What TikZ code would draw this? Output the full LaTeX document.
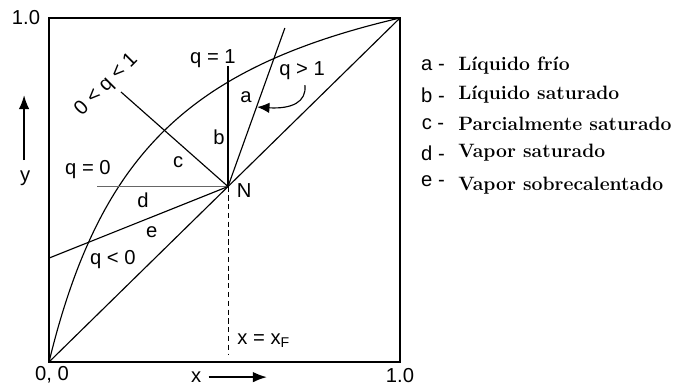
\documentclass[tikz,border=0pt]{standalone}
\usepackage{fontspec}
\setsansfont{Liberation Sans}
\usetikzlibrary{arrows.meta}

\begin{document}
\begin{tikzpicture}[x=7.02cm,y=6.88cm,
	lbl/.style={font=\sffamily\fontsize{11.5}{13}\selectfont,inner sep=0pt},
	key/.style={font=\bfseries\fontsize{11}{13}\selectfont,anchor=west,inner sep=0pt},
	op/.style={line width=0.65pt}]
	\useasboundingbox (-0.1396,-0.0727) rectangle (1.8034,1.0523);
	% frame and diagonal
	\coordinate (o) at (0,0);
	\coordinate (t) at (1,1);
	\draw[line width=1.1pt] (o) rectangle (t);
	\draw[op] (o)--(t);
	% equilibrium curve
	\draw[op] plot[domain=0:1,samples=80,smooth] (\x,{4.2*\x/(1+3.2*\x)});
	% feed point and q-lines
	\coordinate (n) at (0.51,0.51);
	\coordinate (q1) at (0.51,0.86);
	\coordinate (qg) at (0.672,0.971);
	\coordinate (qm) at (0.205,0.785);
	\coordinate (q0) at (0.137,0.51);
	\coordinate (ql) at (0,0.302);
	\coordinate (xf) at (0.51,0.02);
	\draw[op](n)--(q1);
	\draw[op](n)--(qg);
	\draw[op](n)--(qm);
	\draw[op,draw=black!60,line width=0.8pt](n)--(q0);
	\draw[op](n)--(ql);
	\draw[line width=0.5pt,dash pattern=on 3pt off 2pt](n)--(xf);
	% labels on the lines
	\node[lbl] (lq1) at (0.467,0.881){q = 1};
	\node[lbl] (lqg) at (0.721,0.846){q > 1};
	\node[lbl,rotate=45] (lqm) at (0.164,0.805){0 < q < 1};
	\node[lbl] (lq0) at (0.111,0.558){q = 0};
	\node[lbl] (lql) at (0.182,0.299){q < 0};
	\node[lbl] (la) at (0.561,0.770){a};
	\node[lbl] (lb) at (0.484,0.654){b};
	\node[lbl] (lc) at (0.368,0.581){c};
	\node[lbl] (ld) at (0.268,0.471){d};
	\node[lbl] (le) at (0.293,0.378){e};
	\node[lbl] (ln) at (0.556,0.497){N};
	\node[lbl,anchor=west] (lxf) at (0.536,0.061){x = x\textsubscript{F}};
	\coordinate (ca) at (0.729,0.805);
	\coordinate (cb) at (0.593,0.741);
	\draw[op,-{Latex[length=7pt,width=6pt]}](ca) .. controls (0.735,0.755) and (0.69,0.735) .. (cb);
	% axes
	\node[lbl] (top) at (-0.0655,1.0){1.0};
	\node[lbl] (zero) at (0.0085,-0.038){0, 0};
	\node[lbl] (one) at (1.0,-0.038){1.0};
	\node[lbl] (xl) at (0.419,-0.044){x};
	\coordinate (xe) at (0.621,-0.044);
	\draw[line width=1pt,-{Latex[length=8pt,width=6pt]}]([xshift=4pt]xl.east)--(xe);
	\node[lbl] (yl) at (-0.068,0.535){y};
	\coordinate (ys) at (-0.071,0.587);
	\coordinate (ye) at (-0.071,0.776);
	\draw[line width=1pt,-{Latex[length=8pt,width=6pt]}](ys)--(ye);
	% legend
	\node[lbl] (ka) at (1.094,0.863){a -};
	\node[lbl] (kb) at (1.094,0.776){b -};
	\node[lbl] (kc) at (1.094,0.692){c -};
	\node[lbl] (kd) at (1.094,0.608){d -};
	\node[lbl] (ke) at (1.094,0.526){e -};
	\node[key] (ta) at (1.165,0.863){Líquido frío};
	\node[key] (tb) at (1.165,0.776){Líquido saturado};
	\node[key] (tc) at (1.165,0.692){Parcialmente saturado};
	\node[key] (td) at (1.165,0.608){Vapor saturado};
	\node[key] (te) at (1.165,0.512){Vapor sobrecalentado};
\end{tikzpicture}
\end{document}
